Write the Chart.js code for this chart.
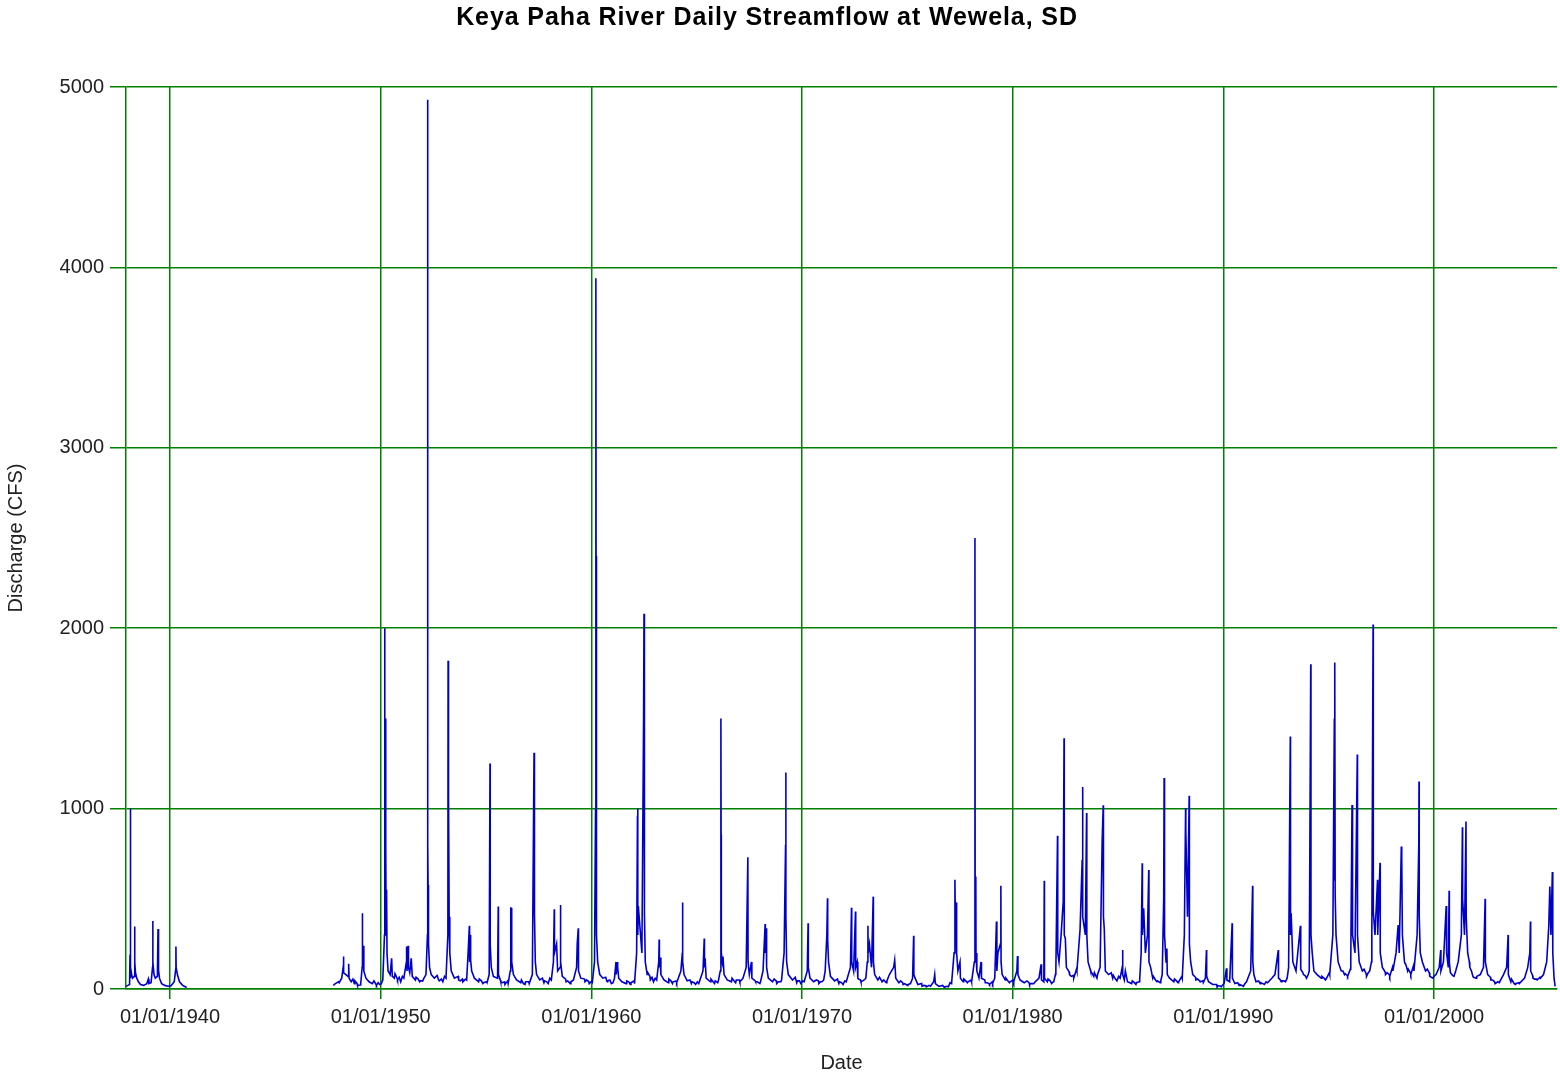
<!DOCTYPE html>
<html>
<head>
<meta charset="utf-8">
<title>Keya Paha River Daily Streamflow</title>
<script src="https://cdn.jsdelivr.net/npm/chart.js@4.4.1/dist/chart.umd.min.js"></script>
<style>
  body { margin: 0; background: #fff; }
  #wrap { width: 1560px; height: 1076px; }
</style>
</head>
<body>
<div id="wrap"><canvas id="flowChart" width="1560" height="1076"></canvas></div>
<script>
const chartTitle = 'Keya Paha River Daily Streamflow at Wewela, SD';

// x axis ticks (decimal year) and their labels
const tickYears = [1940, 1950, 1960, 1970, 1980, 1990, 2000];
const tickLabels = ['01/01/1940', '01/01/1950', '01/01/1960', '01/01/1970', '01/01/1980', '01/01/1990', '01/01/2000'];
const yTicks = [0, 1000, 2000, 3000, 4000, 5000];

// first record, 1937 - 1940 (decimal years, cfs)
const years1 = [
  1937.92, 1938.00, 1938.08, 1938.10, 1938.11, 1938.12, 1938.125, 1938.14, 1938.18, 1938.22,
  1938.30, 1938.32, 1938.33, 1938.36, 1938.42, 1938.50, 1938.60, 1938.75, 1938.90, 1938.97,
  1939.00, 1939.10, 1939.17, 1939.18, 1939.19, 1939.24, 1939.30, 1939.40, 1939.43, 1939.44,
  1939.47, 1939.50, 1939.60, 1939.75, 1939.90, 1940.05, 1940.20, 1940.27, 1940.28, 1940.29,
  1940.35, 1940.45, 1940.60, 1940.79
];
const flow1 = [
  15, 20, 25, 190, 60, 1000, 300, 120, 80, 60,
  70, 346, 150, 90, 60, 40, 25, 20, 30, 55,
  30, 35, 120, 377, 150, 80, 60, 70, 333, 120,
  105, 60, 30, 20, 15, 18, 40, 110, 235, 120,
  80, 40, 20, 8
];

// second record, 1947 - 2005: flood events
const years2 = [
  1947.75, 1947.85, 1948.00, 1948.15, 1948.22, 1948.23, 1948.25, 1948.35, 1948.45, 1948.48,
  1948.50, 1948.60, 1948.75, 1948.90, 1949.05, 1949.12, 1949.13, 1949.14, 1949.17, 1949.20,
  1949.30, 1949.45, 1949.60, 1949.80, 1949.95, 1950.10, 1950.18, 1950.19, 1950.20, 1950.22,
  1950.23, 1950.25, 1950.26, 1950.28, 1950.30, 1950.35, 1950.45, 1950.52, 1950.55, 1950.65,
  1950.80, 1950.95, 1951.10, 1951.22, 1951.23, 1951.25, 1951.30, 1951.32, 1951.38, 1951.45,
  1951.50, 1951.65, 1951.85, 1952.00, 1952.15, 1952.22, 1952.23, 1952.235, 1952.25, 1952.26,
  1952.28, 1952.32, 1952.40, 1952.55, 1952.75, 1952.95, 1953.10, 1953.19, 1953.20, 1953.21,
  1953.23, 1953.25, 1953.28, 1953.35, 1953.50, 1953.70, 1953.90, 1954.08, 1954.15, 1954.21,
  1954.22, 1954.25, 1954.27, 1954.32, 1954.45, 1954.65, 1954.85, 1955.05, 1955.15, 1955.19,
  1955.20, 1955.25, 1955.35, 1955.55, 1955.58, 1955.59, 1955.70, 1955.90, 1956.05, 1956.15,
  1956.17, 1956.18, 1956.20, 1956.22, 1956.30, 1956.45, 1956.65, 1956.85, 1957.05, 1957.20,
  1957.28, 1957.29, 1957.31, 1957.34, 1957.40, 1957.55, 1957.75, 1957.95, 1958.10, 1958.20,
  1958.24, 1958.25, 1958.35, 1958.40, 1958.52, 1958.53, 1958.55, 1958.62, 1958.80, 1959.00,
  1959.15, 1959.30, 1959.33, 1959.38, 1959.39, 1959.50, 1959.70, 1959.90, 1960.05, 1960.15,
  1960.20, 1960.21, 1960.22, 1960.225, 1960.23, 1960.24, 1960.26, 1960.30, 1960.40, 1960.55,
  1960.75, 1960.95, 1961.10, 1961.17, 1961.18, 1961.22, 1961.24, 1961.26, 1961.30, 1961.45,
  1961.65, 1961.85, 1962.05, 1962.15, 1962.19, 1962.20, 1962.21, 1962.23, 1962.40, 1962.48,
  1962.50, 1962.51, 1962.52, 1962.53, 1962.56, 1962.65, 1962.80, 1962.95, 1963.10, 1963.20,
  1963.22, 1963.23, 1963.27, 1963.30, 1963.45, 1963.65, 1963.85, 1964.05, 1964.25, 1964.32,
  1964.33, 1964.34, 1964.40, 1964.55, 1964.75, 1964.95, 1965.10, 1965.30, 1965.36, 1965.37,
  1965.40, 1965.45, 1965.65, 1965.85, 1966.00, 1966.12, 1966.15, 1966.16, 1966.17, 1966.22,
  1966.25, 1966.30, 1966.45, 1966.65, 1966.85, 1967.05, 1967.20, 1967.35, 1967.43, 1967.44,
  1967.50, 1967.60, 1967.62, 1967.80, 1968.00, 1968.15, 1968.25, 1968.26, 1968.30, 1968.32,
  1968.40, 1968.60, 1968.80, 1969.00, 1969.15, 1969.22, 1969.23, 1969.24, 1969.27, 1969.35,
  1969.55, 1969.75, 1969.95, 1970.10, 1970.25, 1970.29, 1970.30, 1970.38, 1970.55, 1970.80,
  1970.95, 1971.10, 1971.18, 1971.21, 1971.22, 1971.26, 1971.35, 1971.55, 1971.75, 1971.95,
  1972.10, 1972.30, 1972.35, 1972.36, 1972.45, 1972.54, 1972.55, 1972.62, 1972.65, 1972.80,
  1972.95, 1973.10, 1973.13, 1973.14, 1973.20, 1973.30, 1973.38, 1973.39, 1973.45, 1973.60,
  1973.80, 1974.00, 1974.15, 1974.25, 1974.35, 1974.40, 1974.45, 1974.60, 1974.80, 1975.00,
  1975.15, 1975.25, 1975.30, 1975.31, 1975.37, 1975.50, 1975.70, 1975.90, 1976.10, 1976.25,
  1976.30, 1976.33, 1976.50, 1976.75, 1976.95, 1977.10, 1977.22, 1977.26, 1977.27, 1977.28,
  1977.32, 1977.34, 1977.40, 1977.50, 1977.52, 1977.65, 1977.85, 1978.05, 1978.18, 1978.21,
  1978.22, 1978.25, 1978.26, 1978.30, 1978.40, 1978.50, 1978.52, 1978.70, 1978.90, 1979.05,
  1979.15, 1979.20, 1979.23, 1979.25, 1979.30, 1979.42, 1979.44, 1979.45, 1979.50, 1979.65,
  1979.85, 1980.05, 1980.20, 1980.23, 1980.25, 1980.35, 1980.55, 1980.80, 1981.00, 1981.25,
  1981.35, 1981.37, 1981.48, 1981.50, 1981.51, 1981.65, 1981.85, 1981.95, 1982.05, 1982.13,
  1982.14, 1982.20, 1982.30, 1982.40, 1982.44, 1982.45, 1982.50, 1982.55, 1982.70, 1982.90,
  1983.05, 1983.20, 1983.30, 1983.32, 1983.33, 1983.45, 1983.51, 1983.52, 1983.58, 1983.70,
  1983.85, 1984.00, 1984.15, 1984.25, 1984.30, 1984.31, 1984.35, 1984.40, 1984.55, 1984.75,
  1984.95, 1985.10, 1985.20, 1985.22, 1985.23, 1985.30, 1985.35, 1985.45, 1985.65, 1985.85,
  1986.00, 1986.10, 1986.15, 1986.16, 1986.22, 1986.30, 1986.40, 1986.46, 1986.47, 1986.55,
  1986.65, 1986.85, 1987.00, 1987.10, 1987.17, 1987.19, 1987.20, 1987.22, 1987.28, 1987.32,
  1987.34, 1987.45, 1987.65, 1987.85, 1988.05, 1988.15, 1988.21, 1988.22, 1988.30, 1988.38,
  1988.39, 1988.45, 1988.55, 1988.70, 1988.90, 1989.05, 1989.15, 1989.20, 1989.21, 1989.30,
  1989.50, 1989.70, 1989.90, 1990.05, 1990.15, 1990.17, 1990.30, 1990.42, 1990.43, 1990.55,
  1990.75, 1990.95, 1991.10, 1991.30, 1991.39, 1991.40, 1991.45, 1991.55, 1991.75, 1991.95,
  1992.10, 1992.30, 1992.45, 1992.61, 1992.62, 1992.75, 1992.95, 1993.10, 1993.18, 1993.19,
  1993.22, 1993.30, 1993.45, 1993.66, 1993.67, 1993.80, 1993.95, 1994.08, 1994.15, 1994.16,
  1994.22, 1994.30, 1994.45, 1994.65, 1994.85, 1995.05, 1995.20, 1995.27, 1995.28, 1995.30,
  1995.31, 1995.35, 1995.45, 1995.60, 1995.75, 1995.90, 1996.05, 1996.11, 1996.12, 1996.15,
  1996.25, 1996.36, 1996.37, 1996.45, 1996.60, 1996.80, 1996.95, 1997.05, 1997.11, 1997.12,
  1997.20, 1997.32, 1997.33, 1997.44, 1997.45, 1997.55, 1997.70, 1997.90, 1998.05, 1998.20,
  1998.30, 1998.35, 1998.45, 1998.47, 1998.50, 1998.60, 1998.75, 1998.90, 1999.05, 1999.20,
  1999.28, 1999.29, 1999.30, 1999.35, 1999.45, 1999.60, 1999.80, 1999.95, 2000.10, 2000.25,
  2000.32, 2000.33, 2000.45, 2000.58, 2000.60, 2000.72, 2000.73, 2000.85, 2000.95, 2001.15,
  2001.30, 2001.35, 2001.36, 2001.45, 2001.52, 2001.53, 2001.60, 2001.70, 2001.85, 2002.00,
  2002.20, 2002.35, 2002.43, 2002.44, 2002.55, 2002.70, 2002.90, 2003.10, 2003.30, 2003.45,
  2003.52, 2003.53, 2003.65, 2003.85, 2004.05, 2004.30, 2004.45, 2004.55, 2004.58, 2004.59,
  2004.70, 2004.90, 2005.05, 2005.20, 2005.35, 2005.45, 2005.50, 2005.55, 2005.62, 2005.64,
  2005.70, 2005.75
];
const flow2 = [
  20, 30, 40, 60, 120, 180, 90, 80, 70, 140,
  60, 40, 30, 20, 25, 120, 420, 150, 240, 100,
  60, 40, 30, 20, 25, 50, 300, 2000, 600, 1500,
  700, 790, 300, 550, 200, 100, 80, 170, 70, 60,
  50, 40, 60, 150, 235, 100, 240, 120, 90, 170,
  70, 50, 40, 45, 80, 300, 4930, 800, 577, 475,
  250, 120, 80, 60, 50, 40, 60, 300, 1820, 700,
  1070, 400, 200, 100, 60, 50, 40, 50, 200, 350,
  150, 300, 160, 100, 60, 40, 30, 35, 80, 1250,
  245, 120, 70, 60, 457, 80, 40, 25, 30, 100,
  453, 200, 450, 150, 80, 50, 35, 25, 30, 80,
  1310, 400, 420, 150, 80, 50, 35, 30, 50, 150,
  442, 200, 250, 100, 120, 466, 150, 70, 40, 30,
  50, 120, 250, 337, 100, 60, 40, 30, 40, 150,
  1000, 3000, 3940, 2400, 1500, 600, 300, 150, 80, 60,
  40, 30, 60, 150, 80, 150, 100, 120, 60, 40,
  30, 25, 30, 200, 960, 1000, 300, 460, 200, 1500,
  2080, 800, 1560, 420, 150, 80, 50, 40, 50, 150,
  275, 120, 175, 80, 50, 35, 30, 35, 100, 200,
  480, 150, 80, 45, 30, 25, 30, 100, 280, 120,
  170, 60, 40, 30, 35, 100, 1500, 855, 200, 150,
  180, 80, 50, 40, 35, 40, 60, 120, 730, 150,
  80, 150, 60, 40, 30, 100, 360, 200, 337, 120,
  60, 40, 30, 40, 200, 800, 1200, 400, 150, 80,
  50, 35, 30, 40, 100, 365, 120, 60, 40, 30,
  40, 100, 300, 503, 270, 150, 70, 45, 30, 25,
  40, 120, 450, 150, 100, 430, 120, 150, 60, 40,
  50, 150, 350, 200, 250, 120, 512, 150, 80, 50,
  40, 35, 80, 100, 120, 160, 60, 35, 25, 20,
  30, 60, 295, 80, 60, 25, 15, 12, 15, 40,
  80, 30, 15, 10, 12, 30, 200, 605, 485, 300,
  480, 200, 100, 150, 60, 40, 35, 40, 150, 2500,
  400, 623, 200, 100, 60, 150, 60, 35, 25, 30,
  60, 250, 374, 100, 200, 250, 572, 150, 80, 50,
  35, 40, 100, 183, 80, 50, 35, 25, 30, 60,
  137, 50, 40, 600, 60, 40, 30, 40, 100, 850,
  200, 150, 300, 485, 1390, 300, 280, 120, 80, 60,
  100, 330, 716, 1120, 400, 300, 975, 300, 150, 100,
  70, 60, 120, 827, 1018, 400, 330, 100, 80, 60,
  45, 60, 120, 216, 80, 50, 100, 40, 30, 25,
  40, 200, 697, 300, 448, 200, 300, 660, 150, 120,
  60, 40, 35, 80, 500, 1170, 956, 300, 150, 225,
  80, 60, 40, 35, 60, 300, 1003, 880, 400, 1071,
  250, 150, 80, 50, 40, 35, 60, 216, 70, 40,
  25, 15, 12, 40, 115, 50, 40, 365, 60, 30,
  20, 15, 40, 100, 572, 150, 80, 40, 30, 25,
  35, 60, 80, 216, 60, 40, 40, 120, 1400, 300,
  420, 150, 100, 350, 150, 80, 60, 100, 1800, 300,
  200, 100, 80, 60, 50, 80, 300, 1500, 600, 1810,
  520, 300, 150, 100, 80, 70, 150, 1020, 780, 300,
  200, 1300, 300, 150, 100, 70, 100, 300, 2020, 430,
  300, 605, 300, 700, 200, 120, 80, 70, 100, 200,
  355, 200, 790, 716, 300, 150, 100, 80, 100, 300,
  808, 1150, 400, 200, 150, 100, 70, 60, 80, 120,
  216, 100, 150, 460, 200, 544, 150, 80, 70, 150,
  300, 897, 500, 300, 928, 400, 200, 120, 70, 60,
  80, 120, 500, 150, 80, 50, 30, 35, 80, 120,
  300, 80, 40, 25, 30, 60, 120, 200, 374, 100,
  60, 50, 60, 80, 150, 350, 568, 300, 648, 200,
  60, 15
];

// second record: low-flow readings between events
const lowYears = [
  1948.03, 1948.68, 1948.78, 1948.88, 1949.03, 1949.68, 1949.78, 1949.88,
  1950.03, 1950.68, 1950.78, 1950.88, 1951.03, 1951.68, 1951.78, 1951.88,
  1952.03, 1952.68, 1952.78, 1952.88, 1953.03, 1953.68, 1953.78, 1953.88,
  1954.03, 1954.68, 1954.78, 1954.88, 1955.03, 1955.68, 1955.78, 1955.88,
  1956.03, 1956.68, 1956.78, 1956.88, 1957.03, 1957.68, 1957.78, 1957.88,
  1958.03, 1958.68, 1958.78, 1958.88, 1959.03, 1959.68, 1959.78, 1959.88,
  1960.03, 1960.68, 1960.78, 1960.88, 1961.03, 1961.68, 1961.78, 1961.88,
  1962.03, 1962.68, 1962.78, 1962.88, 1963.03, 1963.68, 1963.78, 1963.88,
  1964.03, 1964.68, 1964.78, 1964.88, 1965.03, 1965.68, 1965.78, 1965.88,
  1966.03, 1966.68, 1966.78, 1966.88, 1967.03, 1967.68, 1967.78, 1967.88,
  1968.03, 1968.68, 1968.78, 1968.88, 1969.03, 1969.68, 1969.78, 1969.88,
  1970.03, 1970.68, 1970.78, 1970.88, 1971.03, 1971.68, 1971.78, 1971.88,
  1972.03, 1972.68, 1972.78, 1972.88, 1973.03, 1973.68, 1973.78, 1973.88,
  1974.03, 1974.68, 1974.78, 1974.88, 1975.03, 1975.68, 1975.78, 1975.88,
  1976.03, 1976.68, 1976.78, 1976.88, 1977.03, 1977.68, 1977.78, 1977.88,
  1978.03, 1978.68, 1978.78, 1978.88, 1979.03, 1979.68, 1979.78, 1979.88,
  1980.03, 1980.68, 1980.78, 1980.88, 1981.03, 1981.68, 1981.78, 1981.88,
  1982.03, 1982.68, 1982.78, 1982.88, 1983.03, 1983.68, 1983.78, 1983.88,
  1984.03, 1984.68, 1984.78, 1984.88, 1985.03, 1985.68, 1985.78, 1985.88,
  1986.03, 1986.68, 1986.78, 1986.88, 1987.03, 1987.68, 1987.78, 1987.88,
  1988.03, 1988.68, 1988.78, 1988.88, 1989.03, 1989.68, 1989.78, 1989.88,
  1990.03, 1990.68, 1990.78, 1990.88, 1991.03, 1991.68, 1991.78, 1991.88,
  1992.03, 1992.68, 1992.78, 1992.88, 1993.03, 1993.68, 1993.78, 1993.88,
  1994.03, 1994.68, 1994.78, 1994.88, 1995.03, 1995.68, 1995.78, 1995.88,
  1996.03, 1996.68, 1996.78, 1996.88, 1997.03, 1997.68, 1997.78, 1997.88,
  1998.03, 1998.68, 1998.78, 1998.88, 1999.03, 1999.68, 1999.78, 1999.88,
  2000.03, 2000.68, 2000.78, 2000.88, 2001.03, 2001.68, 2001.78, 2001.88,
  2002.03, 2002.68, 2002.78, 2002.88, 2003.03, 2003.68, 2003.78, 2003.88,
  2004.03, 2004.68, 2004.78, 2004.88, 2005.03
];
const lowFlow = [
  35, 55, 45, 30, 22, 45, 25, 35,
  30, 85, 60, 65, 70, 65, 55, 45,
  55, 75, 45, 55, 70, 70, 45, 55,
  55, 55, 45, 35, 40, 50, 35, 40,
  45, 50, 30, 40, 40, 60, 45, 40,
  60, 65, 55, 45, 40, 55, 50, 40,
  45, 65, 45, 50, 35, 45, 40, 35,
  45, 90, 70, 65, 60, 55, 45, 40,
  45, 50, 40, 35, 40, 55, 40, 45,
  45, 60, 45, 50, 50, 55, 45, 40,
  40, 55, 45, 40, 50, 65, 45, 45,
  45, 50, 45, 40, 50, 55, 40, 35,
  45, 55, 50, 45, 60, 65, 45, 50,
  45, 45, 35, 30, 25, 30, 20, 18,
  20, 20, 12, 15, 35, 55, 45, 40,
  50, 50, 35, 30, 40, 60, 45, 40,
  50, 45, 35, 30, 35, 55, 45, 35,
  80, 95, 70, 75, 110, 110, 85, 90,
  80, 90, 75, 55, 70, 45, 35, 35,
  50, 70, 50, 45, 45, 55, 45, 40,
  70, 65, 55, 45, 45, 25, 18, 15,
  30, 35, 25, 20, 30, 45, 35, 30,
  40, 55, 45, 45, 60, 110, 90, 75,
  80, 70, 60, 55, 90, 100, 85, 75,
  110, 110, 85, 90, 150, 95, 90, 80,
  120, 130, 110, 90, 130, 110, 90, 65,
  75, 120, 90, 75, 100, 150, 100, 65,
  70, 65, 50, 40, 40, 55, 35, 30,
  35, 75, 55, 55, 65
];

const gapYear = 1944; // no record between the two periods

const record2 = [];
years2.forEach((t, i) => record2.push({ x: t, y: flow2[i] }));
lowYears.forEach((t, i) => record2.push({ x: t, y: lowFlow[i] }));
record2.sort((a, b) => a.x - b.x);

const points = [];
years1.forEach((t, i) => points.push({ x: t, y: flow1[i] }));
points.push({ x: gapYear, y: null });
record2.forEach(p => points.push(p));

const gridGreen = '#008000';
const fontFamily = '"Liberation Sans", Arial, sans-serif';

const titlePlugin = {
  id: 'topTitle',
  afterDraw(chart) {
    const ctx = chart.ctx;
    ctx.save();
    ctx.font = 'bold 25px ' + fontFamily;
    ctx.letterSpacing = '0.9px';
    ctx.fillStyle = '#000';
    ctx.textAlign = 'center';
    ctx.textBaseline = 'middle';
    ctx.fillText(chartTitle, 767, 18);
    ctx.restore();
  }
};

new Chart(document.getElementById('flowChart'), {
  type: 'line',
  data: {
    datasets: [{
      label: 'Discharge',
      data: points,
      borderColor: '#0000cc',
      borderWidth: 1.6,
      pointRadius: 0,
      tension: 0,
      spanGaps: false,
      fill: false
    }]
  },
  options: {
    responsive: false,
    maintainAspectRatio: false,
    animation: false,
    layout: { padding: { top: 87, right: 3, left: 0, bottom: 0 } },
    plugins: {
      legend: { display: false },
      title: { display: false },
      tooltip: { enabled: false }
    },
    scales: {
      x: {
        type: 'linear',
        min: 1937.91,
        max: 2005.84,
        afterBuildTicks(scale) {
          scale.ticks = tickYears.map(v => ({ value: v }));
        },
        afterFit(scale) { scale.height = 87; },
        grid: { color: gridGreen, lineWidth: 1.5, tickLength: 10 },
        border: { color: gridGreen, width: 1.5 },
        ticks: {
          autoSkip: false,
          maxRotation: 0,
          padding: 6,
          color: '#222',
          font: { family: fontFamily, size: 20 },
          callback: (v) => tickLabels[tickYears.indexOf(v)]
        },
        title: {
          display: true,
          text: 'Date',
          color: '#222',
          padding: { top: 0, bottom: 1 },
          font: { family: fontFamily, size: 20 }
        }
      },
      y: {
        min: 0,
        max: 5000,
        afterBuildTicks(scale) {
          scale.ticks = yTicks.map(v => ({ value: v }));
        },
        afterFit(scale) { scale.width = 126; },
        grid: { color: gridGreen, lineWidth: 1.5, tickLength: 16 },
        border: { color: gridGreen, width: 1.5 },
        ticks: {
          padding: 6,
          color: '#222',
          font: { family: fontFamily, size: 20 },
          callback: (v) => String(v)
        },
        title: {
          display: true,
          text: 'Discharge (CFS)',
          color: '#222',
          padding: { top: 4, bottom: 0 },
          font: { family: fontFamily, size: 20 }
        }
      }
    }
  },
  plugins: [titlePlugin]
});
</script>
</body>
</html>
